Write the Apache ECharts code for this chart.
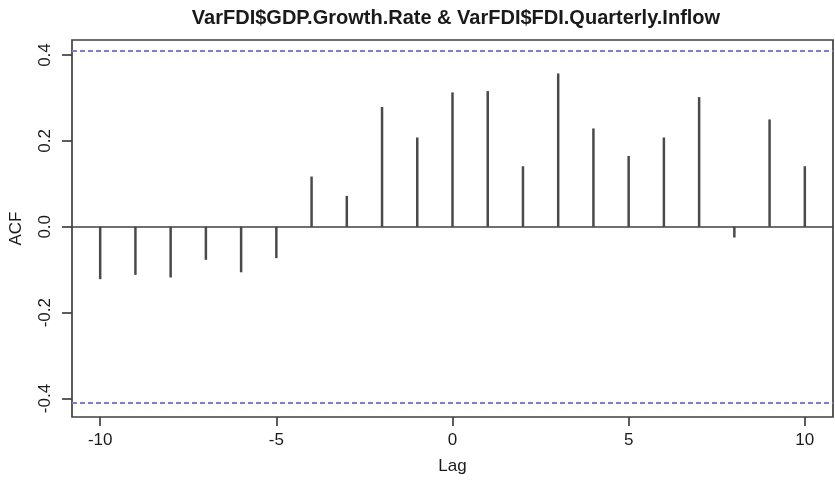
<!DOCTYPE html>
<html>
<head>
<meta charset="utf-8">
<script src="https://cdn.jsdelivr.net/npm/echarts@6/dist/echarts.min.js"></script>
<style>
  html, body { margin: 0; padding: 0; background: #fff; }
  #chart { width: 835px; height: 480px; }
</style>
</head>
<body>
<div id="chart"></div>
<script>
// cross-correlation values
var lags = [-10, -9, -8, -7, -6, -5, -4, -3, -2, -1, 0, 1, 2, 3, 4, 5, 6, 7, 8, 9, 10];
var acf = [-0.122, -0.112, -0.118, -0.077, -0.106, -0.073, 0.117, 0.072, 0.279, 0.208,
  0.313, 0.316, 0.141, 0.357, 0.229, 0.165, 0.208, 0.302, -0.025, 0.250, 0.141];
var confLimit = 0.407;
var xTicks = [-10, -5, 0, 5, 10];
var yTicks = [-0.4, -0.2, 0, 0.2, 0.4];

var FONT = '"Liberation Sans", Arial, Helvetica, sans-serif';
var chart = echarts.init(document.getElementById('chart'));

var option = {
  animation: false,
  title: {
    text: 'VarFDI$GDP.Growth.Rate & VarFDI$FDI.Quarterly.Inflow',
    left: 451,
    textAlign: 'center',
    top: 3,
    textStyle: { fontFamily: FONT, fontSize: 20, fontWeight: 'bold', color: '#1a1a1a' }
  },
  grid: {
    left: 69, right: 2, top: 40, bottom: 63,
    show: true, borderColor: '#404040', borderWidth: 1.7
  },
  xAxis: {
    type: 'value',
    min: -10.8, max: 10.8,
    name: 'Lag',
    nameLocation: 'middle',
    nameGap: 41,
    nameTextStyle: { fontFamily: FONT, fontSize: 17, color: '#1a1a1a' },
    axisLine: { show: false, onZero: false },
    splitLine: { show: false },
    axisTick: { show: true, customValues: xTicks, length: 9, lineStyle: { color: '#404040', width: 1.7 } },
    axisLabel: { customValues: xTicks, fontFamily: FONT, fontSize: 17, color: '#1a1a1a', margin: 15 }
  },
  yAxis: {
    type: 'value',
    min: -0.443, max: 0.435,
    name: 'ACF',
    nameLocation: 'middle',
    nameGap: 47,
    nameTextStyle: { fontFamily: FONT, fontSize: 17, color: '#1a1a1a' },
    axisLine: { show: false, onZero: false },
    splitLine: { show: false },
    axisTick: { show: true, customValues: yTicks, length: 10, lineStyle: { color: '#404040', width: 1.7 } },
    axisLabel: {
      customValues: yTicks, rotate: 90, fontFamily: FONT, fontSize: 17, color: '#1a1a1a', margin: 18,
      formatter: function (v) { return v.toFixed(1); }
    }
  },
  series: [{
    type: 'bar',
    barWidth: 2.5,
    data: lags.map(function (l, i) { return [l, acf[i]]; }),
    itemStyle: { color: '#4a4a4a' },
    markLine: {
      silent: true,
      symbol: 'none',
      label: { show: false },
      data: [
        { yAxis: 0, lineStyle: { color: '#404040', width: 1.7, type: 'solid' } },
        { yAxis: confLimit, lineStyle: { color: '#7c7cd0', width: 2.2, type: [5, 3] } },
        { yAxis: -confLimit, lineStyle: { color: '#7c7cd0', width: 2.2, type: [5, 3] } }
      ]
    }
  }]
};
chart.setOption(option);
</script>
</body>
</html>
